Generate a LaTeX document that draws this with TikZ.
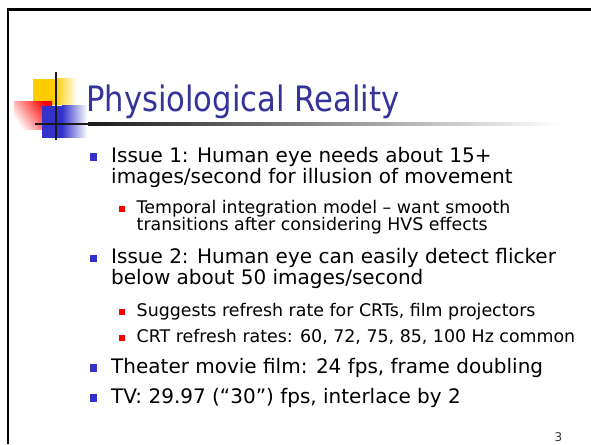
\documentclass[tikz,border=0pt]{standalone}
\usepackage{fontspec}
\setmainfont{DejaVu Sans}
\newfontfamily\titlefont{DejaVu Sans}[FakeStretch=0.875]
\definecolor{titleblue}{RGB}{51,51,153}
\definecolor{bulletblue}{RGB}{51,51,204}
\definecolor{logoyellow}{RGB}{255,204,0}
\definecolor{logored}{RGB}{255,0,0}
\tikzset{
  lone/.style={anchor=base west, inner sep=0pt, font=\fontsize{20}{24}\selectfont},
  ltwo/.style={anchor=base west, inner sep=0pt, font=\fontsize{17.4}{21}\selectfont},
  bulone/.style={fill=bulletblue, minimum size=7.5pt, inner sep=0pt},
  bultwo/.style={fill=logored, minimum size=6pt, inner sep=0pt},
}
\begin{document}
\begin{tikzpicture}[x=1pt, y=1pt]
\useasboundingbox (0,0) rectangle (591,444);
\fill[white] (0,0) rectangle (591,444);

% slide frame
\draw[line width=2.6pt] (8,0) |- (591,434.3);

% title logo: yellow, red and blue squares with crossing rules
\fill[logoyellow] (33,339) rectangle (55,365);
\shade[left color=logoyellow, right color=white] (55,339) rectangle (77,365);
\shade[top color=logored, bottom color=white, shading angle=-55] (14,314) rectangle (52,342);
\fill[bulletblue] (42,306) rectangle (62,338);
\shade[left color=bulletblue, right color=white] (62,306) rectangle (87,338);
\draw[line width=2.5pt, black!90] (56.2,304) -- (56.2,372);
\fill[black!90] (35,318.7) rectangle (88,321.3);
\shade[left color=black!90, middle color=black!38, right color=white] (88,318.7) rectangle (560,321.3);

% title
\node[anchor=base west, inner sep=0pt, text=titleblue, font=\fontsize{35}{40}\titlefont] (title) at (86,332) {Physiological Reality};

% first-level items
\node[bulone] (b1) at (93.3,287) {};
\node[lone] (t1a) at (111,281.5) {Issue 1: Human eye needs about 15+};
\node[lone] (t1b) at (111,260.5) {images/second for illusion of movement};

\node[bultwo] (b11) at (122.3,234.5) {};
\node[ltwo] (t11a) at (136.5,230) {Temporal integration model – want smooth};
\node[ltwo] (t11b) at (136.5,213) {transitions after considering HVS effects};

\node[bulone] (b2) at (93.3,185.5) {};
\node[lone] (t2a) at (111,180) {Issue 2: Human eye can easily detect flicker};
\node[lone] (t2b) at (111,159) {below about 50 images/second};

\node[bultwo] (b21) at (122.3,131.5) {};
\node[ltwo] (t21) at (136.5,127) {Suggests refresh rate for CRTs, film projectors};
\node[bultwo] (b22) at (122.3,105.5) {};
\node[ltwo] (t22) at (136.5,101) {CRT refresh rates: 60, 72, 75, 85, 100 Hz common};

\node[bulone] (b3) at (93.3,76) {};
\node[lone] (t3) at (111,70.5) {Theater movie film: 24 fps, frame doubling};
\node[bulone] (b4) at (93.3,46) {};
\node[lone] (t4) at (111,40.5) {TV: 29.97 (“30”) fps, interlace by 2};

% page number
\node[anchor=base, inner sep=0pt, text=black!80, font=\fontsize{12}{14}\selectfont] (pagenum) at (558.5,2) {3};
\end{tikzpicture}
\end{document}
